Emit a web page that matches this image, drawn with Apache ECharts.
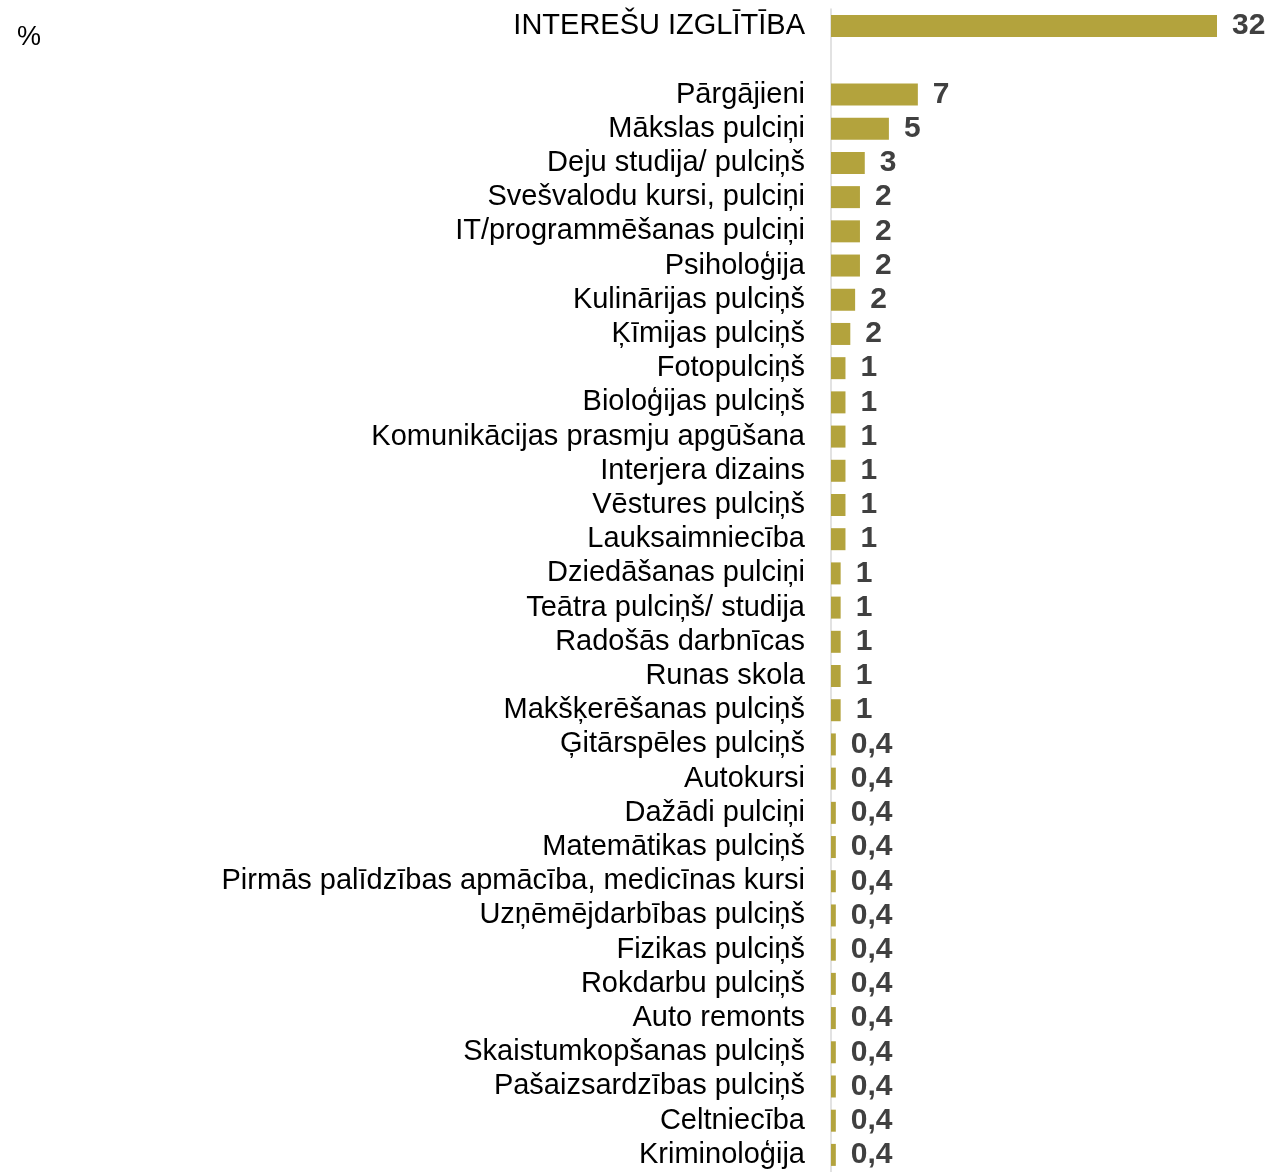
<!DOCTYPE html>
<html>
<head>
<meta charset="utf-8">
<script src="https://cdn.jsdelivr.net/npm/echarts@6/dist/echarts.min.js"></script>
<style>
  html, body { margin: 0; padding: 0; background: #fff; }
  #chart { width: 1274px; height: 1172px; }
</style>
</head>
<body>
<div id="chart"></div>
<script>
// kopējais rādītājs
var totalName = 'INTEREŠU IZGLĪTĪBA';
var totalValue = 32;
var totalLabel = '32';

// pulciņi / nodarbības
var categories = [
  'Pārgājieni', 'Mākslas pulciņi', 'Deju studija/ pulciņš', 'Svešvalodu kursi, pulciņi',
  'IT/programmēšanas pulciņi', 'Psiholoģija', 'Kulinārijas pulciņš', 'Ķīmijas pulciņš',
  'Fotopulciņš', 'Bioloģijas pulciņš', 'Komunikācijas prasmju apgūšana', 'Interjera dizains',
  'Vēstures pulciņš', 'Lauksaimniecība', 'Dziedāšanas pulciņi', 'Teātra pulciņš/ studija',
  'Radošās darbnīcas', 'Runas skola', 'Makšķerēšanas pulciņš', 'Ģitārspēles pulciņš',
  'Autokursi', 'Dažādi pulciņi', 'Matemātikas pulciņš', 'Pirmās palīdzības apmācība, medicīnas kursi',
  'Uzņēmējdarbības pulciņš', 'Fizikas pulciņš', 'Rokdarbu pulciņš', 'Auto remonts',
  'Skaistumkopšanas pulciņš', 'Pašaizsardzības pulciņš', 'Celtniecība', 'Kriminoloģija'
];
var values = [
  7.2, 4.8, 2.8, 2.4,
  2.4, 2.4, 2.0, 1.6,
  1.2, 1.2, 1.2, 1.2,
  1.2, 1.2, 0.8, 0.8,
  0.8, 0.8, 0.8, 0.4,
  0.4, 0.4, 0.4, 0.4,
  0.4, 0.4, 0.4, 0.4,
  0.4, 0.4, 0.4, 0.4
];
var valueLabels = [
  '7', '5', '3', '2',
  '2', '2', '2', '2',
  '1', '1', '1', '1',
  '1', '1', '1', '1',
  '1', '1', '1', '0,4',
  '0,4', '0,4', '0,4', '0,4',
  '0,4', '0,4', '0,4', '0,4',
  '0,4', '0,4', '0,4', '0,4'
];

// kopsumma, tukša rinda, tad pārējie
var axisCats = [totalName, ''].concat(categories);
var axisVals = [totalValue, '-'].concat(values);
var axisLabels = [totalLabel, ''].concat(valueLabels);

var chart = echarts.init(document.getElementById('chart'));
var option = {
  animation: false,
  title: {
    text: '%',
    left: 12,
    top: 19,
    textStyle: { fontFamily: 'Liberation Sans', fontSize: 27, fontWeight: 'normal', color: '#000' }
  },
  grid: { left: 831, right: 57, top: 9, bottom: -1, containLabel: false },
  xAxis: {
    type: 'value',
    min: 0,
    max: 32,
    show: false,
    splitLine: { show: false }
  },
  yAxis: {
    type: 'category',
    inverse: true,
    data: axisCats,
    axisLine: { show: true, lineStyle: { color: '#d9d9d9', width: 1.5 } },
    axisTick: { show: false },
    axisLabel: {
      interval: 0,
      margin: 26,
      fontFamily: 'Liberation Sans',
      fontSize: 29,
      color: '#000'
    }
  },
  series: [{
    type: 'bar',
    data: axisVals,
    barWidth: 22,
    itemStyle: { color: '#b3a33d' },
    label: {
      show: true,
      position: 'right',
      distance: 15,
      fontFamily: 'Liberation Sans',
      fontSize: 30,
      fontWeight: 'bold',
      color: '#404040',
      formatter: function (p) { return axisLabels[p.dataIndex]; }
    }
  }]
};
chart.setOption(option);
</script>
</body>
</html>
